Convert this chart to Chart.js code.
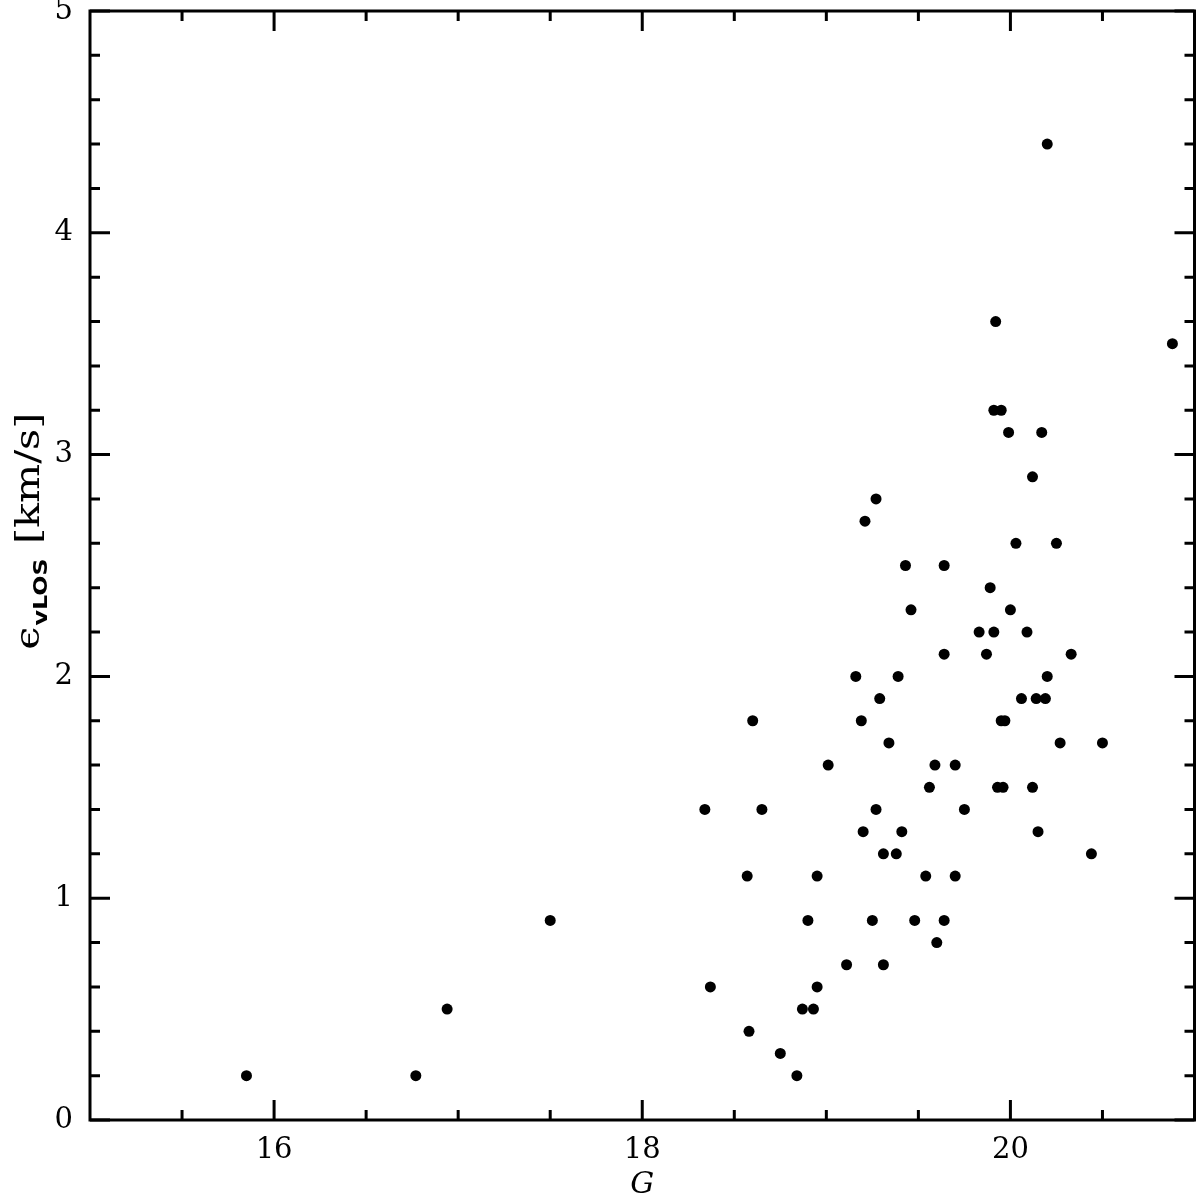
<!DOCTYPE html>
<html>
<head>
<meta charset="utf-8">
<script src="https://cdn.jsdelivr.net/npm/chart.js@4"></script>
<style>
  html, body { margin: 0; padding: 0; background: #fff; }
  #wrap { width: 1200px; height: 1198px; }
</style>
</head>
<body>
<div id="wrap"><canvas id="c"></canvas></div>
<script>
// G magnitude of each star
var gMag = [
  15.85, 16.77, 16.94, 17.50, 18.34, 18.37, 18.57, 18.58, 18.60, 18.65,
  18.75, 18.84, 18.87, 18.90, 18.93, 18.95, 18.95, 19.01, 19.11, 19.16,
  19.19, 19.20, 19.21, 19.25, 19.27, 19.27, 19.29, 19.31, 19.31, 19.34,
  19.38, 19.39, 19.41, 19.43, 19.46, 19.48, 19.54, 19.56, 19.59, 19.60,
  19.64, 19.64, 19.64, 19.70, 19.70, 19.75, 19.83, 19.87, 19.89, 19.91,
  19.92, 19.91, 19.95, 19.93, 19.96, 19.95, 19.97, 19.99, 20.00, 20.03,
  20.06, 20.09, 20.12, 20.12, 20.14, 20.15, 20.17, 20.19, 20.20, 20.20,
  20.25, 20.27, 20.33, 20.44, 20.50, 20.88
];
// line-of-sight velocity error (km/s)
var errVlos = [
  0.2, 0.2, 0.5, 0.9, 1.4, 0.6, 1.1, 0.4, 1.8, 1.4,
  0.3, 0.2, 0.5, 0.9, 0.5, 0.6, 1.1, 1.6, 0.7, 2.0,
  1.8, 1.3, 2.7, 0.9, 1.4, 2.8, 1.9, 0.7, 1.2, 1.7,
  1.2, 2.0, 1.3, 2.5, 2.3, 0.9, 1.1, 1.5, 1.6, 0.8,
  2.5, 2.1, 0.9, 1.6, 1.1, 1.4, 2.2, 2.1, 2.4, 2.2,
  3.6, 3.2, 3.2, 1.5, 1.5, 1.8, 1.8, 3.1, 2.3, 2.6,
  1.9, 2.2, 2.9, 1.5, 1.9, 1.3, 3.1, 1.9, 2.0, 4.4,
  2.6, 1.7, 2.1, 1.2, 1.7, 3.5
];

var xTicks = [16, 18, 20];
var yTicks = [0, 1, 2, 3, 4, 5];
var xMinor = [15.5, 16.5, 17, 17.5, 18.5, 19, 19.5, 20.5];
var yMinor = [0.2, 0.4, 0.6, 0.8, 1.2, 1.4, 1.6, 1.8, 2.2, 2.4, 2.6, 2.8,
              3.2, 3.4, 3.6, 3.8, 4.2, 4.4, 4.6, 4.8];

var points = gMag.map(function(g, i) { return { x: g, y: errVlos[i] }; });

var serif = '"DejaVu Serif", "Liberation Serif", serif';

// frame with inward ticks on all four sides
var framePlugin = {
  id: 'frame',
  afterDraw: function(chart) {
    var ctx = chart.ctx;
    var a = chart.chartArea;
    var xs = chart.scales.x, ys = chart.scales.y;
    ctx.save();
    ctx.strokeStyle = '#000';
    ctx.lineWidth = 3;
    ctx.strokeRect(a.left, a.top, a.right - a.left, a.bottom - a.top);
    ctx.beginPath();
    function xt(v, len) {
      var px = xs.getPixelForValue(v);
      ctx.moveTo(px, a.bottom); ctx.lineTo(px, a.bottom - len);
      ctx.moveTo(px, a.top); ctx.lineTo(px, a.top + len);
    }
    function yt(v, len) {
      var py = ys.getPixelForValue(v);
      ctx.moveTo(a.left, py); ctx.lineTo(a.left + len, py);
      ctx.moveTo(a.right, py); ctx.lineTo(a.right - len, py);
    }
    xTicks.forEach(function(v) { xt(v, 20); });
    xMinor.forEach(function(v) { xt(v, 10); });
    yTicks.forEach(function(v) { yt(v, 20); });
    yMinor.forEach(function(v) { yt(v, 10); });
    ctx.stroke();

    // y axis title with subscript (stretched along the text like the original face)
    var cy = (a.top + a.bottom) / 2 - 33;
    ctx.translate(30, cy);
    ctx.rotate(-Math.PI / 2);
    ctx.scale(1.25, 1);
    ctx.fillStyle = '#000';
    ctx.textBaseline = 'alphabetic';
    var f1 = '33px ' + serif;
    var f2 = 'bold 19px "DejaVu Sans", sans-serif';
    ctx.font = f1; var w1 = ctx.measureText('\u03f5').width;
    ctx.font = f2; var w2 = ctx.measureText('vLOS').width;
    ctx.font = f1; var w3 = ctx.measureText(' [km/s]').width;
    var x0 = -(w1 + w2 + w3) / 2;
    ctx.font = f1; ctx.fillText('\u03f5', x0, 9);
    ctx.font = f2; ctx.fillText('vLOS', x0 + w1 + 1, 17);
    ctx.font = f1; ctx.fillText(' [km/s]', x0 + w1 + w2 + 2, 9);
    ctx.restore();
  }
};

new Chart(document.getElementById('c'), {
  type: 'scatter',
  data: {
    datasets: [{
      data: points,
      backgroundColor: '#000',
      borderColor: '#000',
      pointRadius: 5.5,
      pointHoverRadius: 5.5,
      borderWidth: 0
    }]
  },
  options: {
    responsive: true,
    maintainAspectRatio: false,
    animation: false,
    layout: { padding: { top: 11, right: 0, left: 0, bottom: 0 } },
    plugins: { legend: { display: false }, tooltip: { enabled: false } },
    scales: {
      x: {
        type: 'linear', min: 15, max: 21,
        afterBuildTicks: function(s) { s.ticks = xTicks.map(function(v) { return { value: v }; }); },
        afterFit: function(s) { s.height = 78; s.paddingLeft = 0; s.paddingRight = 0; },
        grid: { display: false, drawTicks: false },
        border: { display: false },
        ticks: { color: '#000', padding: 13, font: { family: serif, size: 29, weight: '500' } },
        title: { display: true, text: 'G', color: '#000', padding: { top: 8, bottom: -5 },
                 font: { family: serif, size: 30, style: 'italic' } }
      },
      y: {
        type: 'linear', min: 0, max: 5,
        afterBuildTicks: function(s) { s.ticks = yTicks.map(function(v) { return { value: v }; }); },
        afterFit: function(s) { s.width = 90; s.paddingTop = 0; s.paddingBottom = 0; },
        grid: { display: false, drawTicks: false },
        border: { display: false },
        ticks: { color: '#000', padding: 17, font: { family: serif, size: 29, weight: '500' } }
      }
    }
  },
  plugins: [framePlugin]
});
</script>
</body>
</html>
